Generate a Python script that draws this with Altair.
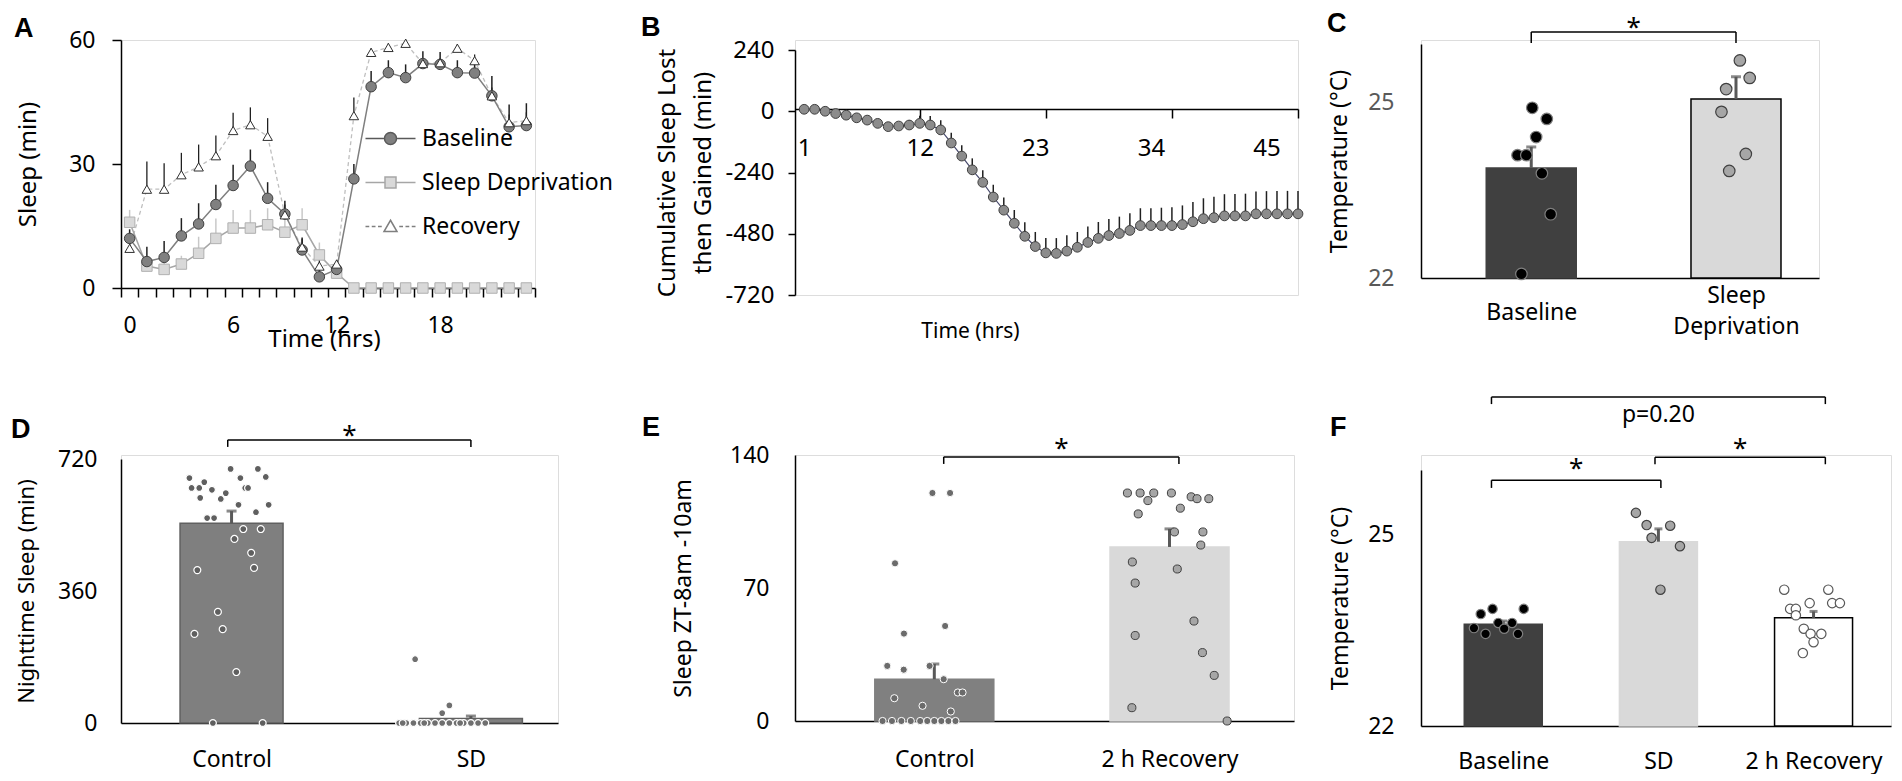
import json
import altair as alt
import pandas as pd

FONT = "Noto Sans"
LETTER_FONT = "Liberation Sans"
FS = 23

# ================= DATA =================
# Panel A: sleep per hour
a_hours = [0, 1, 2, 3, 4, 5, 6, 7, 8, 9, 10, 11, 12, 13, 14, 15, 16, 17, 18, 19, 20, 21, 22, 23]
a_baseline = [12.0, 6.4, 7.4, 12.6, 15.5, 20.2, 24.8, 29.5, 21.7, 17.9, 9.2, 2.7, 4.5, 26.4,
              48.7, 52.1, 50.9, 54.3, 54.1, 52.1, 52.0, 46.5, 39.0, 39.3]
a_baseline_sem = [2.2, 3.6, 4.0, 4.3, 5.0, 4.8, 5.0, 4.0, 3.9, 3.2, 3.0, 2.0, 1.0, 3.6,
                  3.8, 3.0, 3.2, 3.0, 3.0, 3.0, 3.0, 4.8, 5.4, 5.4]
a_sd = [15.9, 5.3, 4.5, 5.8, 8.4, 12.0, 14.5, 14.5, 15.3, 13.5, 15.3, 8.0, 3.6, 0.0,
        0.0, 0.0, 0.0, 0.0, 0.0, 0.0, 0.0, 0.0, 0.0, 0.0]
a_sd_sem = [3.0, 2.0, 2.0, 2.0, 4.0, 4.8, 4.4, 4.4, 4.0, 5.0, 4.0, 3.0, 2.0, 0.0,
            0.0, 0.0, 0.0, 0.0, 0.0, 0.0, 0.0, 0.0, 0.0, 0.0]
a_recovery = [9.6, 23.9, 23.9, 27.4, 29.3, 32.0, 38.1, 39.5, 36.7, 17.7, 9.9, 5.3, 5.8, 41.7,
              57.0, 58.2, 59.2, 54.3, 54.5, 58.0, 55.0, 46.5, 40.0, 40.5]
a_recovery_sem = [2.0, 6.7, 6.3, 5.3, 5.4, 4.9, 4.3, 4.2, 4.4, 2.5, 2.0, 1.5, 1.0, 4.4,
                  1.0, 1.0, 1.0, 1.0, 1.0, 1.0, 1.5, 2.0, 2.0, 2.0]
a_series = ["Baseline", "Sleep Deprivation", "Recovery"]
a_tick_labels = [0, 6, 12, 18]

# Panel B: cumulative sleep lost then gained
b_hours = list(range(1, 49))
b_cum = [7.7, 7.7, 0, -8.9, -15.4, -25.7, -34.7, -47.5, -60.3, -57.8, -53.9, -47.5, -53.9, -73.2,
         -124.4, -175.7, -229.6, -278.5, -336, -387.5, -439, -490, -530, -555, -557, -548, -533,
         -514, -498, -487, -479, -467, -448, -448, -448, -448, -444, -433, -421, -417, -410,
         -410, -410, -402, -402, -402, -402, -402]
b_sem = [0, 0, 0, 3, 3, 4, 5, 5, 6, 10, 20, 30, 35, 38, 40, 42, 45, 47, 48, 50, 52, 55, 57, 58,
         60, 62, 60, 62, 64, 65, 66, 67, 68, 68, 70, 72, 75, 77, 80, 82, 85, 86, 87, 88, 89, 90,
         90, 90]
b_label_hours = [1, 12, 23, 34, 45]
b_tick_hours = [12, 24, 36, 48]
b_y_ticks = [-720, -480, -240, 0, 240]

# Panel C: temperature
c_groups = [["Baseline"], ["Sleep", "Deprivation"]]
c_means = [23.88, 25.06]
c_sem = [0.36, 0.38]
c_points = [[24.91, 24.72, 24.41, 24.10, 24.10, 23.79, 23.09, 22.07],
            [25.72, 25.42, 25.23, 24.84, 24.12, 23.83]]
c_jitter = [[0.005, 0.076, 0.024, -0.067, -0.024, 0.052, 0.095, -0.048],
            [0.019, 0.067, -0.048, -0.071, 0.048, -0.033]]
c_brackets = {"x1": [0.0], "x2": [1.0], "level": [26.205], "drop": [26.017],
              "text_y": [26.137], "text": ["*"]}

# Panel D: nighttime sleep
d_groups = [["Control"], ["SD"]]
d_means = [545, 12]
d_sem = [33, 7]
d_points = [[668, 657, 641, 641, 636, 614, 611, 627, 693, 668, 641, 641, 693, 671, 595, 575,
             595, 559, 559, 529, 529, 502, 464, 423, 417, 303, 256, 243, 139, 0, 0],
            [174, 48, 27, 0, 0, 0, 0, 0, 0, 0, 0, 0, 0, 0, 0, 0, 0, 0, 0]]
d_jitter = [[-0.176, -0.114, -0.167, -0.135, -0.082, -0.131, -0.045, -0.024, -0.004, 0.037,
             0.057, 0.069, 0.11, 0.143, 0.029, 0.102, 0.155, -0.102, -0.073, 0.049, 0.122,
             0.012, 0.082, 0.094, -0.143, -0.057, -0.037, -0.155, 0.02, -0.078, 0.13],
            [-0.233, -0.09, -0.12, -0.30, -0.27, -0.24, -0.21, -0.18, -0.15, -0.12, -0.09,
             -0.06, -0.03, 0.0, 0.03, 0.06, -0.285, -0.195, -0.045]]
d_brackets = {"x1": [-0.016], "x2": [1.0], "level": [772], "drop": [753],
              "text_y": [761], "text": ["*"]}

# Panel E: sleep ZT 8am-10am
e_groups = [["Control"], ["2 h Recovery"]]
e_means = [22, 91.6]
e_sem = [8, 9.5]
e_points = [[120, 120, 83, 46, 50, 29, 27, 29, 22, 15, 15, 12, 8, 5, 0, 0, 0, 0, 0, 0, 0, 0, 0, 0],
            [120, 120, 116, 120, 120, 118, 117, 117, 109, 112, 99.5, 99.5, 92.6, 83.7, 80,
             72.6, 52.6, 45, 36, 24, 7, 0]]
e_jitter = [[-0.008, 0.067, -0.167, -0.129, 0.046, -0.20, -0.13, -0.02, 0.04, 0.10, 0.12,
             -0.17, -0.05, 0.07, -0.22, -0.18, -0.14, -0.10, -0.06, -0.03, 0.0, 0.03, 0.06, 0.09],
            [-0.179, -0.125, -0.092, -0.067, 0.008, 0.092, 0.117, 0.167, -0.133, 0.046, 0.021,
             0.142, 0.133, -0.158, 0.033, -0.146, 0.104, -0.146, 0.14, 0.19, -0.16, 0.245]]
e_brackets = {"x1": [0.04], "x2": [1.04], "level": [139], "drop": [135.3],
              "text_y": [139], "text": ["*"]}

# Panel F: temperature
f_groups = [["Baseline"], ["SD"], ["2 h Recovery"]]
f_means = [23.59, 24.88, 23.69]
f_sem = [0.05, 0.2, 0.1]
f_points = [[23.75, 23.83, 23.83, 23.61, 23.61, 23.53, 23.44, 23.52, 23.44],
            [25.33, 25.14, 25.13, 24.94, 24.81, 24.13],
            [24.13, 24.13, 23.92, 23.92, 23.92, 23.83, 23.83, 23.73, 23.52, 23.44, 23.44,
             23.31, 23.14]]
f_jitter = [[-0.145, -0.069, 0.132, -0.032, 0.057, -0.189, -0.114, 0.006, 0.095],
            [-0.145, -0.076, 0.076, -0.044, 0.139, 0.013],
            [-0.189, 0.095, -0.025, 0.12, 0.17, -0.151, -0.114, -0.114, -0.063, -0.019, 0.05,
             0.0, -0.069]]
f_brackets = {"x1": [-0.076, 0.978, -0.076], "x2": [1.016, 2.076, 2.076],
              "level": [25.84, 26.20, 27.14], "drop": [25.72, 26.09, 27.03],
              "text_y": [25.89, 26.20, 26.75], "text": ["*", "*", "p=0.20"]}


# ================= HELPERS =================
def letter(t, dx, offset):
    return alt.TitleParams(text=t, anchor="start", frame="group", orient="top",
                           baseline="top", font=LETTER_FONT, fontSize=27,
                           fontWeight="bold", color="black", dx=dx, offset=offset)


def y_axis(values, title, title_x, title_y, pad, tick=0, color="black",
           title_size=FS, label_size=FS, expr=None, line_height=None):
    kw = dict(values=values, title=title, titleX=title_x, titleY=title_y,
              titleAngle=270, titleAlign="center", titleBaseline="middle",
              titleFont=FONT, titleFontSize=title_size, titleFontWeight="normal",
              titleColor="black", labelFont=FONT, labelFontSize=label_size,
              labelColor=color, labelPadding=pad, ticks=tick > 0, tickSize=tick,
              tickColor="black", tickWidth=1.5, domainColor="black", domainWidth=1.5,
              grid=False, labelFlush=False, labelOverlap=False)
    if expr:
        kw["labelExpr"] = expr
    if line_height:
        kw["titleLineHeight"] = line_height
    return alt.Axis(**kw)


def x_cat_axis(names, pad, line_height=31):
    # multi-line labels are centred on the same line as single-line ones
    multi = [i for i, n in enumerate(names) if len(n) > 1]
    if multi:
        padding = {"condition": {"test": "indexof(" + json.dumps(multi) + ", datum.value) >= 0",
                                 "value": pad - line_height / 2 - 1}, "value": pad}
    else:
        padding = pad
    return alt.Axis(values=list(range(len(names))), labelExpr=json.dumps(names) + "[datum.value]",
                    title=None, ticks=False, tickSize=0, labelPadding=padding,
                    labelBaseline="middle", labelAlign="center", labelFont=FONT,
                    labelFontSize=FS, labelColor="black", domainColor="black", domainWidth=1.5,
                    grid=False, labelFlush=False, labelOverlap=False, labelLimit=300,
                    labelLineHeight=line_height)


def bracket_layers(br, X, Y):
    n = len(br["x1"])
    h = pd.DataFrame({"x1": br["x1"], "x2": br["x2"], "lvl": br["level"]})
    v = pd.DataFrame({"x": br["x1"] + br["x2"], "lvl": br["level"] * 2, "drop": br["drop"] * 2})
    out = [
        alt.Chart(h).mark_rule(color="black", strokeWidth=1.5).encode(
            x=X("x1"), x2=alt.X2("x2"), y=Y("lvl")),
        alt.Chart(v).mark_rule(color="black", strokeWidth=1.5).encode(
            x=X("x"), y=Y("lvl"), y2=alt.Y2("drop")),
    ]
    for i in range(n):
        t = pd.DataFrame({"xm": [(br["x1"][i] + br["x2"][i]) / 2], "ty": [br["text_y"][i]],
                          "t": [br["text"][i]]})
        size = 26 if br["text"][i] == "*" else FS
        out.append(alt.Chart(t).mark_text(font=FONT, fontSize=size, baseline="alphabetic",
                                          align="center", color="black").encode(
            x=X("xm"), y=Y("ty"), text="t:N"))
    return out


def bar_panel(groups, means, sems, base, points, jitter, dom_x, dom_y, xax, yax,
              bar_w, bar_styles, pt_styles, brackets, W, H, top, title, cap=10):
    xsc = alt.Scale(domain=dom_x, nice=False, zero=False)
    ysc = alt.Scale(domain=dom_y, nice=False, zero=False, range=[H + top, top])
    X = lambda f: alt.X(f, type="quantitative", scale=xsc, axis=xax)
    Y = lambda f: alt.Y(f, type="quantitative", scale=ysc, axis=yax)
    layers = []
    for i in range(len(groups)):
        df = pd.DataFrame({"pos": [i], "m": [means[i]], "top": [means[i] + sems[i]]})
        fill, stroke = bar_styles[i]
        layers.append(alt.Chart(df).mark_bar(size=bar_w, fill=fill, stroke=stroke,
                                             strokeWidth=1.5).encode(
            x=X("pos"), y=Y("m"), y2=alt.datum(base)))
    for i in range(len(groups)):
        df = pd.DataFrame({"pos": [i], "m": [means[i]], "top": [means[i] + sems[i]]})
        layers.append(alt.Chart(df).mark_rule(color="#595959", strokeWidth=3).encode(
            x=X("pos"), y=Y("m"), y2=alt.Y2("top")))
        layers.append(alt.Chart(df).mark_tick(orient="horizontal", size=cap, thickness=3,
                                              color="#595959").encode(x=X("pos"), y=Y("top")))
    for i in range(len(groups)):
        df = pd.DataFrame({"px": [i + j for j in jitter[i]], "v": points[i]})
        fill, stroke, size, sw = pt_styles[i]
        layers.append(alt.Chart(df).mark_point(shape="circle", filled=True, fill=fill,
                                               stroke=stroke, strokeWidth=sw, size=size,
                                               opacity=1).encode(x=X("px"), y=Y("v")))
    layers += bracket_layers(brackets, X, Y)
    return alt.layer(*layers).properties(width=W, height=H + top, title=title)


def spacer(w):
    return alt.Chart(pd.DataFrame({"s": []})).mark_point(opacity=0).properties(width=w, height=1)


# ================= PANEL A =================
A_W, A_H = 414, 248
a_xsc = alt.Scale(domain=[-0.5, 23.5], nice=False, zero=False)
a_ysc = alt.Scale(domain=[0, 60], nice=False, zero=False)
a_bounds = [k - 0.5 for k in range(25)]
a_lab_pos = [v - 0.5 for v in a_tick_labels]
a_xax = alt.Axis(values=a_bounds,
                 labelExpr="indexof(" + json.dumps(a_lab_pos) + ", datum.value) >= 0 ? '' + (datum.value + 0.5) : ''",
                 labelOffset=8.6, ticks=True, tickSize=9, tickWidth=1.5, tickColor="black",
                 labelPadding=17, labelFont=FONT, labelFontSize=FS, labelColor="black",
                 title="Time (hrs)", titleX=203, titleY=39, titleAlign="center",
                 titleBaseline="top", titleFont=FONT, titleFontSize=24,
                 titleFontWeight="normal", titleColor="black", domainColor="black",
                 domainWidth=1.5, grid=False, labelFlush=False, labelOverlap=False)
a_yax = y_axis([0, 30, 60], "Sleep (min)", -93, A_H / 2, 17, tick=9, title_size=24)
AX = lambda f: alt.X(f, type="quantitative", scale=a_xsc, axis=a_xax)
AY = lambda f: alt.Y(f, type="quantitative", scale=a_ysc, axis=a_yax)


def a_df(vals, sems):
    return pd.DataFrame({"h": a_hours, "v": vals, "top": [v + s for v, s in zip(vals, sems)],
                         "e": sems})


leg_paths = [
    "M-2,0H-0.48M0.48,0H2M0.48,0A0.48,0.48,0,1,1,-0.48,0A0.48,0.48,0,1,1,0.48,0Z",
    "M-2,0H-0.44M0.44,0H2M-0.44,-0.44H0.44V0.44H-0.44Z",
    "M-2,0H-1.7M-1.5,0H-1.2M-1,0H-0.7M0.7,0H1M1.2,0H1.5M1.7,0H2M0,-0.5L0.52,0.4H-0.52Z",
]
leg = alt.Legend(orient="none", legendX=256, legendY=85, title=None, symbolSize=625,
                 symbolStrokeWidth=1.5, symbolOpacity=1, labelFont=FONT, labelFontSize=FS,
                 labelColor="black", labelOffset=18, rowPadding=18, padding=0, labelLimit=400)
legend_layer = alt.Chart(pd.DataFrame({"series": a_series})).mark_point(opacity=0).encode(
    shape=alt.Shape("series:N", scale=alt.Scale(domain=a_series, range=leg_paths), legend=leg),
    fill=alt.Fill("series:N", scale=alt.Scale(domain=a_series,
                                               range=["#808080", "#d9d9d9", "#ffffff"]), legend=leg),
    stroke=alt.Stroke("series:N", scale=alt.Scale(domain=a_series,
                                                   range=["#595959", "#a6a6a6", "#7f7f7f"]), legend=leg),
)

dfb, dfs, dfr = a_df(a_baseline, a_baseline_sem), a_df(a_sd, a_sd_sem), a_df(a_recovery, a_recovery_sem)
a_layers = [
    legend_layer,
    alt.Chart(dfr).mark_line(color="#bfbfbf", strokeWidth=1.3, strokeDash=[4, 3]).encode(x=AX("h"), y=AY("v")),
    alt.Chart(dfs).mark_line(color="#a6a6a6", strokeWidth=1.5).encode(x=AX("h"), y=AY("v")),
    alt.Chart(dfb).mark_line(color="#7f7f7f", strokeWidth=1.5).encode(x=AX("h"), y=AY("v")),
    alt.Chart(dfs[dfs.e > 0]).mark_rule(color="#c8c8c8", strokeWidth=1.5).encode(x=AX("h"), y=AY("v"), y2=alt.Y2("top")),
    alt.Chart(dfr).mark_rule(color="#202020", strokeWidth=1.3).encode(x=AX("h"), y=AY("v"), y2=alt.Y2("top")),
    alt.Chart(dfb).mark_rule(color="#202020", strokeWidth=1.5).encode(x=AX("h"), y=AY("v"), y2=alt.Y2("top")),
    alt.Chart(dfs).mark_point(shape="square", filled=True, fill="#d9d9d9", stroke="#b0b0b0",
                              strokeWidth=1, size=110, opacity=1).encode(x=AX("h"), y=AY("v")),
    alt.Chart(dfb).mark_point(shape="circle", filled=True, fill="#808080", stroke="#404040",
                              strokeWidth=1, size=110, opacity=1).encode(x=AX("h"), y=AY("v")),
    alt.Chart(dfr).mark_point(shape="triangle-up", filled=True, fill="white", stroke="#303030",
                              strokeWidth=1, size=90, opacity=1).encode(x=AX("h"), y=AY("v")),
]
panel_a = alt.layer(*a_layers).properties(width=A_W, height=A_H, title=letter("A", -107, -14))

# ================= PANEL B =================
B_W, B_H, B_TOP = 503, 245, 10
b_xsc = alt.Scale(domain=[0.13, 48], nice=False, zero=False)
b_ysc = alt.Scale(domain=[-720, 240], nice=False, zero=False, range=[B_H + B_TOP, B_TOP])
b_xax = alt.Axis(values=sorted(set(b_label_hours + b_tick_hours)),
                 labelExpr="indexof(" + json.dumps(b_label_hours) + ", datum.value) >= 0 ? '' + datum.value : ''",
                 tickOpacity={"condition": {"test": "indexof(" + json.dumps(b_tick_hours) + ", datum.value) >= 0",
                                            "value": 1}, "value": 0},
                 ticks=True, tickSize=9, tickWidth=1.5, tickColor="black", offset=-186,
                 labelPadding=18, labelFont=FONT, labelFontSize=24, labelColor="black",
                 title="Time (hrs)", titleX=175, titleY=211, titleAlign="center",
                 titleBaseline="top", titleFont=FONT, titleFontSize=21,
                 titleFontWeight="normal", titleColor="black", domainColor="black",
                 domainWidth=1.5, grid=False, labelFlush=False, labelOverlap=False)
b_yax = y_axis(b_y_ticks, ["Cumulative Sleep Lost", "then Gained (min)"], -128,
               B_TOP + B_H / 2, 14, tick=7, title_size=24, label_size=24,
               expr="'' + datum.value", line_height=36)
BX = lambda f: alt.X(f, type="quantitative", scale=b_xsc, axis=b_xax)
BY = lambda f: alt.Y(f, type="quantitative", scale=b_ysc, axis=b_yax)
b_df = pd.DataFrame({"h": b_hours, "v": b_cum, "top": [v + e for v, e in zip(b_cum, b_sem)], "e": b_sem})
panel_b = alt.layer(
    alt.Chart(b_df).mark_line(color="#47496b", strokeWidth=1.2).encode(x=BX("h"), y=BY("v")),
    alt.Chart(b_df[b_df.e > 0]).mark_rule(color="#202020", strokeWidth=1.5).encode(
        x=BX("h"), y=BY("v"), y2=alt.Y2("top")),
    alt.Chart(b_df).mark_point(shape="circle", filled=True, fill="#8c8c8c", stroke="#404040",
                               strokeWidth=1, size=95, opacity=1).encode(x=BX("h"), y=BY("v")),
).properties(width=B_W, height=B_H + B_TOP, title=letter("B", -154, -4))

# ================= PANEL C =================
C_W, C_H, C_TOP = 398, 234, 4
panel_c = bar_panel(
    c_groups, c_means, c_sem, 22, c_points, c_jitter, [-0.514, 1.381], [22, 26],
    x_cat_axis(c_groups, 34),
    y_axis([22, 25], "Temperature (°C)", -82, C_TOP + C_H / 2, 27, color="#595959"),
    90, [("#404040", "#404040"), ("#d9d9d9", "black")],
    [("black", "#7f7f7f", 133, 1.2), ("#a6a6a6", "#404040", 133, 1.2)],
    c_brackets, C_W, C_H, C_TOP, letter("C", -94, -23.5))

# ================= PANEL D =================
D_W, D_H, D_TOP = 437, 264, 4
panel_d = bar_panel(
    d_groups, d_means, d_sem, 0, d_points, d_jitter, [-0.441, 1.343], [0, 720],
    x_cat_axis(d_groups, 36),
    y_axis([0, 360, 720], "Nighttime Sleep (min)", -95, D_TOP + D_H / 2, 24, title_size=22),
    103, [("#7f7f7f", "#606060"), ("#7f7f7f", "#606060")],
    [("#5f5f5f", "white", 48, 1.2), ("#6f6f6f", "white", 48, 1.2)],
    d_brackets, D_W, D_H, D_TOP, letter("D", -110, -21.5))

# ================= PANEL E =================
E_W, E_H, E_TOP = 499, 266, 0
panel_e = bar_panel(
    e_groups, e_means, e_sem, 0, e_points, e_jitter, [-0.571, 1.508], [0, 140],
    x_cat_axis(e_groups, 38),
    y_axis([0, 70, 140], "Sleep ZT-8am -10am", -112, E_TOP + E_H / 2, 26),
    119, [("#808080", "#808080"), ("#d9d9d9", "#d9d9d9")],
    [("#6b6b6b", "white", 52, 1.0), ("#a6a6a6", "#404040", 65, 1.0)],
    e_brackets, E_W, E_H, E_TOP, letter("E", -153, -6))

# ================= PANEL F =================
F_W, F_H, F_TOP = 470, 256, 15
panel_f = bar_panel(
    f_groups, f_means, f_sem, 22, f_points, f_jitter, [-0.498, 2.467], [22, 26],
    x_cat_axis(f_groups, 35),
    y_axis([22, 25], "Temperature (°C)", -81, F_TOP + F_H / 2, 27),
    78, [("#404040", "#404040"), ("#d9d9d9", "#d9d9d9"), ("white", "black")],
    [("black", "#7f7f7f", 88, 1.2), ("#a6a6a6", "#404040", 88, 1.2), ("white", "#595959", 88, 1.2)],
    f_brackets, F_W, F_H, F_TOP, letter("F", -91, -45.5), cap=8)

# ================= LAYOUT =================
chart = alt.concat(
    panel_a, spacer(237), panel_b, spacer(123), panel_c,
    panel_d, spacer(237), panel_e, spacer(123), panel_f,
    columns=5, spacing={"row": 160, "column": 0}, bounds="flush",
).properties(
    padding={"left": 2, "top": 1, "right": 0, "bottom": 0}, background="white"
).configure_view(strokeWidth=0).configure(font=FONT)

chart.save("out.html", embed_options={"renderer": "svg", "actions": False})
